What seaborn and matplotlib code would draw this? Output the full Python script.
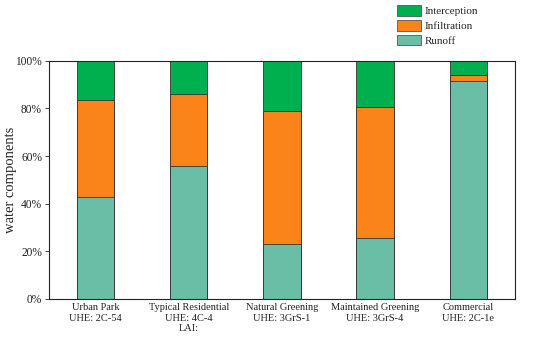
import numpy as np
import pandas as pd
import matplotlib
matplotlib.use("Agg")
import matplotlib.pyplot as plt
import seaborn as sns
from matplotlib.patches import Patch

# Data (percent of total water)
sites = ["Urban Park\nUHE: 2C-54", "Typical Residential\nUHE: 4C-4\nLAI:",
         "Natural Greening\nUHE: 3GrS-1", "Maintained Greening\nUHE: 3GrS-4",
         "Commercial\nUHE: 2C-1e"]
runoff = [42.7, 56.0, 23.2, 25.4, 91.5]
infiltration = [40.7, 30.3, 55.8, 55.2, 2.4]
interception = [16.6, 13.7, 21.0, 19.4, 6.1]

colors = {"Runoff": "#69bea5", "Infiltration": "#fa831a", "Interception": "#00b04f"}

df = pd.DataFrame({"site": sites, "Runoff": runoff,
                   "Infiltration": infiltration, "Interception": interception})
df["cum_infil"] = df["Runoff"] + df["Infiltration"]
df["cum_total"] = df["cum_infil"] + df["Interception"]

sns.set_style("ticks")
plt.rcParams["font.family"] = ["Liberation Serif", "DejaVu Serif"]

fig = plt.figure(figsize=(5.5, 3.44), dpi=100)
ax = fig.add_axes([0.089, 0.131, 0.847, 0.692])

# stacked by overdrawing cumulative totals
sns.barplot(data=df, x="site", y="cum_total", color=colors["Interception"],
            width=0.4, edgecolor="#333333", linewidth=0.6, saturation=1, ax=ax)
sns.barplot(data=df, x="site", y="cum_infil", color=colors["Infiltration"],
            width=0.4, edgecolor="#333333", linewidth=0.6, saturation=1, ax=ax)
sns.barplot(data=df, x="site", y="Runoff", color=colors["Runoff"],
            width=0.4, edgecolor="#333333", linewidth=0.6, saturation=1, ax=ax)

ax.set_xlim(-0.5, 4.5)
ax.set_ylim(0, 100)
ax.set_yticks([0, 20, 40, 60, 80, 100])
ax.set_yticklabels([f"{v}%" for v in range(0, 101, 20)])
ax.set_xlabel("")
ax.set_ylabel("water components", fontsize=10.5)
ax.yaxis.set_label_coords(-0.068, 0.5)
ax.tick_params(axis="y", direction="out", length=3, width=0.6, labelsize=8.3,
               colors="#222222", pad=2)
ax.tick_params(axis="x", direction="in", length=3, width=0.6, labelsize=7.5,
               colors="#222222", pad=3)
for s in ax.spines.values():
    s.set_visible(True)
    s.set_linewidth(0.8)
    s.set_color("#222222")

handles = [Patch(facecolor=colors[k], edgecolor="#555555", linewidth=0.6, label=k)
           for k in ["Interception", "Infiltration", "Runoff"]]
fig.legend(handles=handles, loc="upper left", bbox_to_anchor=(0.722, 0.985),
           frameon=False, fontsize=8, handlelength=2.16, handleheight=1.1,
           handletextpad=0.3, labelspacing=0.33, borderpad=0, borderaxespad=0)

fig.savefig("out.png", dpi=100)
